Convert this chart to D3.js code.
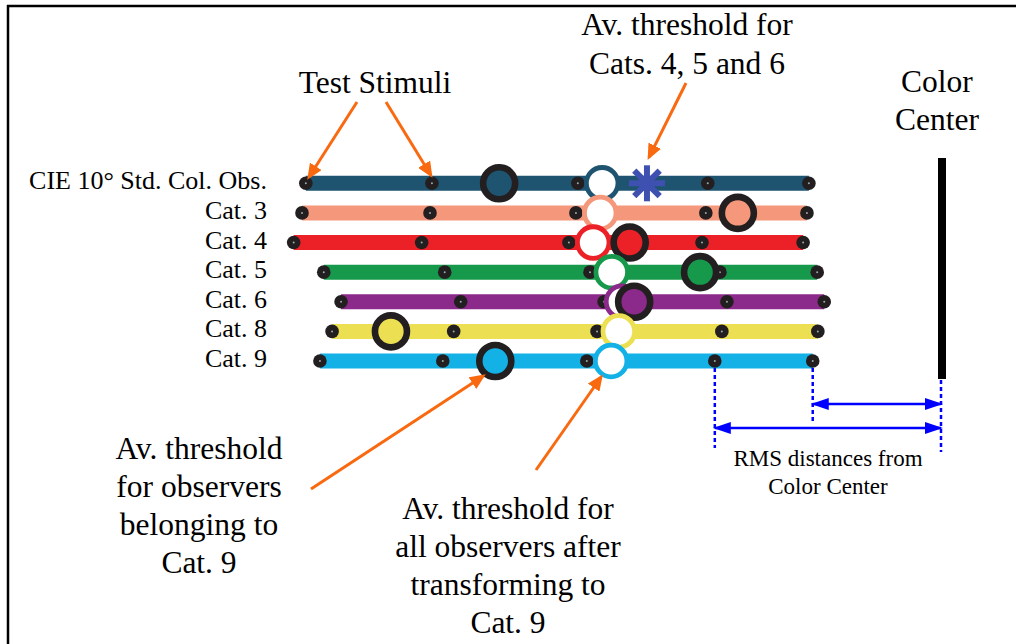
<!DOCTYPE html>
<html>
<head>
<meta charset="utf-8">
<script src="https://cdn.jsdelivr.net/npm/d3@7"></script>
<style>
  body { margin: 0; background: #fff; }
  svg { display: block; }
  text { font-family: "Liberation Serif", "Times New Roman", serif; fill: #000; }
</style>
</head>
<body>
<div id="chart"></div>
<script>
const width = 1016, height = 644;

/* DATA */
// observer categories (rows)
const categories = ["CIE 10° Std. Col. Obs.", "Cat. 3", "Cat. 4", "Cat. 5", "Cat. 6", "Cat. 8", "Cat. 9"];
const rowColors = ["#1f5470", "#f5977b", "#ec2128", "#16994a", "#8c2a8b", "#ece052", "#14b1e7"];

// RMS distance of each test stimulus from the color center (arbitrary units)
const stimuli = [
  [9.94, 7.97, 5.69, 3.66, 2.08],
  [10.00, 8.00, 5.72, 3.69, 2.11],
  [10.13, 8.13, 5.83, 3.75, 2.17],
  [9.66, 7.77, 5.50, 3.47, 1.95],
  [9.39, 7.52, 5.28, 3.36, 1.84],
  [9.53, 7.63, 5.39, 3.44, 1.94],
  [9.72, 7.80, 5.55, 3.55, 2.02]
];
// av. threshold of the observers belonging to each category
const catThreshold = [6.92, 3.19, 4.88, 3.78, 4.81, 8.61, 6.98];
// av. threshold of all observers after transforming to Cat. 9
const cat9Threshold = [5.31, 5.34, 5.45, 5.16, 5.00, 5.05, 5.17];
// av. threshold for Cats. 4, 5 and 6 (shown on the first row)
const jointThreshold = 4.61;
const colorCenter = 0;

/* SCALES */
const xScale = d3.scaleLinear()
  .domain([0, 10])
  .range([942, 302]);

const yScale = d3.scalePoint()
  .domain(categories)
  .range([183.3, 361]);

const svg = d3.select("#chart")
  .append("svg")
  .attr("width", width)
  .attr("height", height);

const orange = "#f96a10",
  blue = "#0000ff",
  dark = "#231f20";

// markers
const defs = svg.append("defs");
defs.append("marker")
  .attr("id", "orangeHead")
  .attr("viewBox", "0 0 16 14")
  .attr("refX", 13).attr("refY", 7)
  .attr("markerWidth", 16).attr("markerHeight", 14)
  .attr("markerUnits", "userSpaceOnUse")
  .attr("orient", "auto")
  .append("path")
  .attr("d", "M0,0 L16,7 L0,14 Z")
  .attr("fill", orange);

defs.append("marker")
  .attr("id", "blueHead")
  .attr("viewBox", "0 0 18 12")
  .attr("refX", 16).attr("refY", 6)
  .attr("markerWidth", 18).attr("markerHeight", 12)
  .attr("markerUnits", "userSpaceOnUse")
  .attr("orient", "auto-start-reverse")
  .append("path")
  .attr("d", "M0,0 L18,6 L0,12 Z")
  .attr("fill", blue);

// frame (top and left edge)
svg.append("line")
  .attr("x1", 7).attr("x2", width).attr("y1", 6).attr("y2", 6)
  .attr("stroke", "#000").attr("stroke-width", 2.5);
svg.append("line")
  .attr("x1", 8).attr("x2", 8).attr("y1", 5).attr("y2", height)
  .attr("stroke", "#000").attr("stroke-width", 2.5);

/* ROWS */
const rows = svg.selectAll("g.row")
  .data(categories)
  .join("g")
  .attr("class", "row");

rows.append("text")
  .attr("x", 267)
  .attr("y", d => yScale(d) + 6)
  .attr("text-anchor", "end")
  .attr("font-size", 26)
  .text(d => d);

rows.append("line")
  .attr("x1", (d, i) => xScale(d3.max(stimuli[i])))
  .attr("x2", (d, i) => xScale(d3.min(stimuli[i])))
  .attr("y1", d => yScale(d))
  .attr("y2", d => yScale(d))
  .attr("stroke", (d, i) => rowColors[i])
  .attr("stroke-width", 15);

rows.each(function(cat, i) {
  const g = d3.select(this);
  const y = yScale(cat);

  g.selectAll("circle.stim")
    .data(stimuli[i])
    .join("circle")
    .attr("class", "stim")
    .attr("cx", d => xScale(d))
    .attr("cy", y)
    .attr("r", 6.8)
    .attr("fill", dark);

  g.selectAll("circle.stimc")
    .data(stimuli[i])
    .join("circle")
    .attr("class", "stimc")
    .attr("cx", d => xScale(d))
    .attr("cy", y)
    .attr("r", 1)
    .attr("fill", "#9aa");

  // transformed threshold (open circle)
  g.append("circle")
    .attr("cx", xScale(cat9Threshold[i]))
    .attr("cy", y)
    .attr("r", 15.8)
    .attr("fill", "#fff")
    .attr("stroke", rowColors[i])
    .attr("stroke-width", 4.8);

  // category threshold (black ring)
  g.append("circle")
    .attr("cx", xScale(catThreshold[i]))
    .attr("cy", y)
    .attr("r", 16)
    .attr("fill", rowColors[i])
    .attr("stroke", dark)
    .attr("stroke-width", 6.6);
});

// asterisk: Cats. 4, 5 and 6
const ax = xScale(jointThreshold), ay = yScale(categories[0]);
svg.append("g")
  .attr("transform", `translate(${ax},${ay})`)
  .selectAll("line")
  .data([0, 45, 90, 135])
  .join("line")
  .attr("x1", -18).attr("x2", 18)
  .attr("y1", 0).attr("y2", 0)
  .attr("transform", d => `rotate(${d})`)
  .attr("stroke", "#3f51b0")
  .attr("stroke-width", 6);

// color center bar
svg.append("line")
  .attr("x1", xScale(colorCenter)).attr("x2", xScale(colorCenter))
  .attr("y1", 158).attr("y2", 379)
  .attr("stroke", "#000")
  .attr("stroke-width", 8);

/* RMS DISTANCE ANNOTATION */
const lastRow = stimuli[stimuli.length - 1];
const rmsLines = [
  { x: xScale(lastRow[3]), y1: 368, y2: 448 },
  { x: xScale(lastRow[4]), y1: 368, y2: 421 },
  { x: xScale(colorCenter) - 1, y1: 380, y2: 452 }
];
svg.selectAll("line.rms")
  .data(rmsLines)
  .join("line")
  .attr("class", "rms")
  .attr("x1", d => d.x).attr("x2", d => d.x)
  .attr("y1", d => d.y1).attr("y2", d => d.y2)
  .attr("stroke", blue)
  .attr("stroke-width", 2.5)
  .attr("stroke-dasharray", "4,3");

const rmsArrows = [
  { x1: xScale(lastRow[4]), x2: xScale(colorCenter) - 1, y: 404 },
  { x1: xScale(lastRow[3]), x2: xScale(colorCenter) - 1, y: 428 }
];
svg.selectAll("line.rmsArrow")
  .data(rmsArrows)
  .join("line")
  .attr("class", "rmsArrow")
  .attr("x1", d => d.x1).attr("x2", d => d.x2)
  .attr("y1", d => d.y).attr("y2", d => d.y)
  .attr("stroke", blue)
  .attr("stroke-width", 2.5)
  .attr("marker-start", "url(#blueHead)")
  .attr("marker-end", "url(#blueHead)");

/* ORANGE ARROWS */
const y0 = yScale(categories[0]), y9 = yScale(categories[6]);
const arrows = [
  { x1: 357, y1: 102, x2: xScale(stimuli[0][0]) + 3, y2: y0 - 6 },
  { x1: 386, y1: 102, x2: xScale(stimuli[0][1]) - 1, y2: y0 - 8 },
  { x1: 686, y1: 83, x2: ax + 2, y2: ay - 26 },
  { x1: 311, y1: 489, x2: xScale(catThreshold[6]) - 12, y2: y9 + 15 },
  { x1: 536, y1: 470, x2: xScale(cat9Threshold[6]) - 10, y2: y9 + 16 }
];
svg.selectAll("line.arrow")
  .data(arrows)
  .join("line")
  .attr("class", "arrow")
  .attr("x1", d => d.x1).attr("y1", d => d.y1)
  .attr("x2", d => d.x2).attr("y2", d => d.y2)
  .attr("stroke", orange)
  .attr("stroke-width", 3)
  .attr("marker-end", "url(#orangeHead)");

/* LABELS */
const labels = [
  { x: 375, y: 93, size: 31.5, lines: ["Test Stimuli"] },
  { x: 687, y: 35, size: 31.5, lh: 39, lines: ["Av. threshold for", "Cats. 4, 5 and 6"] },
  { x: 937, y: 92, size: 31.5, lh: 38, lines: ["Color", "Center"] },
  { x: 199, y: 459, size: 31.5, lh: 38, lines: ["Av. threshold", "for observers", "belonging to", "Cat. 9"] },
  { x: 508, y: 519, size: 31.5, lh: 38, lines: ["Av. threshold for", "all observers after", "transforming to", "Cat. 9"] },
  { x: 828, y: 466, size: 23, lh: 28, lines: ["RMS distances from", "Color Center"] }
];
labels.forEach(l => {
  svg.append("text")
    .attr("text-anchor", "middle")
    .attr("font-size", l.size)
    .selectAll("tspan")
    .data(l.lines)
    .join("tspan")
    .attr("x", l.x)
    .attr("y", (d, i) => l.y + i * (l.lh || 0))
    .text(d => d);
});
</script>
</body>
</html>
